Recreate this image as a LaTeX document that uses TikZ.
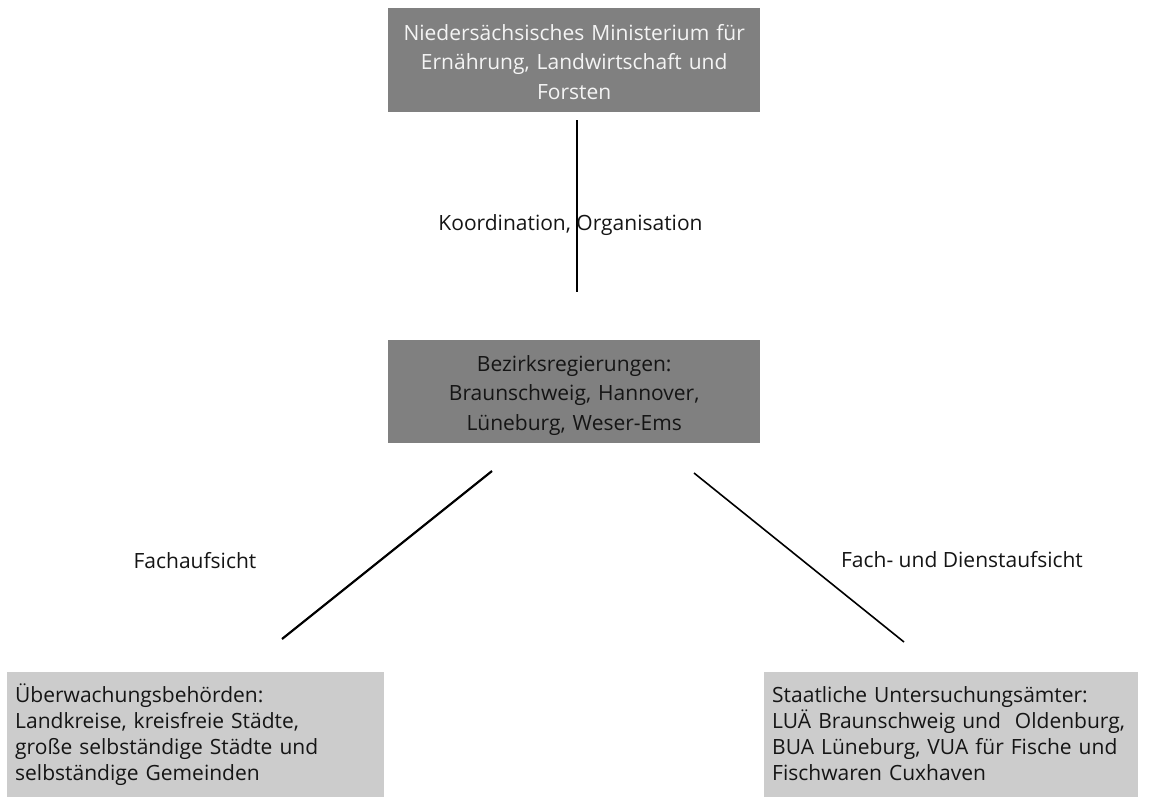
\documentclass[tikz,border=0pt]{standalone}
\usepackage{fontspec}
\setmainfont{Open Sans}
\definecolor{darkbox}{HTML}{808080}
\definecolor{lightbox}{HTML}{CCCCCC}
\definecolor{boxtext}{HTML}{F4F4F4}
\definecolor{ink}{HTML}{151515}
\tikzset{
  darkrect/.style={fill=darkbox, draw=none, anchor=north west, minimum width=372pt, minimum height=104pt, inner sep=0pt},
  lightrect/.style={fill=lightbox, draw=none, anchor=north west, minimum height=140pt, inner sep=0pt},
  toptext/.style={anchor=base, inner sep=0pt, align=center, text width=372pt, font=\fontsize{21}{29.5}\selectfont},
  lowtext/.style={anchor=base west, inner sep=0pt, align=left, text width=380pt, font=\fontsize{21}{26}\selectfont, text=ink},
  lbl/.style={font=\fontsize{21}{25}\selectfont, text=ink, inner sep=0pt},
  link/.style={draw=black, line width=1.8pt}
}
\begin{document}
\begin{tikzpicture}[x=1pt,y=-1pt]
\useasboundingbox (0,0) rectangle (1149,796);
% boxes
\node[darkrect] (min) at (388,8) {};
\node[darkrect, minimum height=103pt] (bez) at (388,340) {};
\node[lightrect, minimum width=377pt] (ueb) at (7,672) {};
\node[lightrect, minimum width=374pt] (sua) at (764,672) {};
% texts
\node[toptext, text=boxtext] (mintext) at ([yshift=-32pt]min.north) {Niedersächsisches Ministerium für\\Ernährung, Landwirtschaft und\\Forsten};
\node[toptext, text=ink] (beztext) at ([yshift=-31pt]bez.north) {Bezirksregierungen:\\Braunschweig, Hannover,\\Lüneburg, Weser-Ems};
\node[lowtext] (uebtext) at ([xshift=8pt,yshift=-30pt]ueb.north west) {Überwachungsbehörden:\\Landkreise, kreisfreie Städte,\\große selbständige Städte und\\selbständige Gemeinden};
\node[lowtext] (suatext) at ([xshift=8pt,yshift=-30pt]sua.north west) {Staatliche Untersuchungsämter:\\LUÄ Braunschweig und~ Oldenburg,\\BUA Lüneburg, VUA für Fische und\\Fischwaren Cuxhaven};
% connectors (free-standing between the boxes)
\coordinate (v1) at (577,120);
\coordinate (v2) at (577,292);
\coordinate (l1) at (492,471);
\coordinate (l2) at (282,639);
\coordinate (r1) at (694,473);
\coordinate (r2) at (904,642);
\draw[link, line width=1.6pt] (v1) -- (v2);
\draw[link, line width=2.2pt] (l1) -- (l2);
\draw[link, line width=1.6pt] (r1) -- (r2);
% labels
\node[lbl] (koord) at (570.5,225) {Koordination, Organisation};
\node[lbl] (fach) at (195,561) {Fachaufsicht};
\node[lbl] (dienst) at (962,560) {Fach- und Dienstaufsicht};
\end{tikzpicture}
\end{document}
